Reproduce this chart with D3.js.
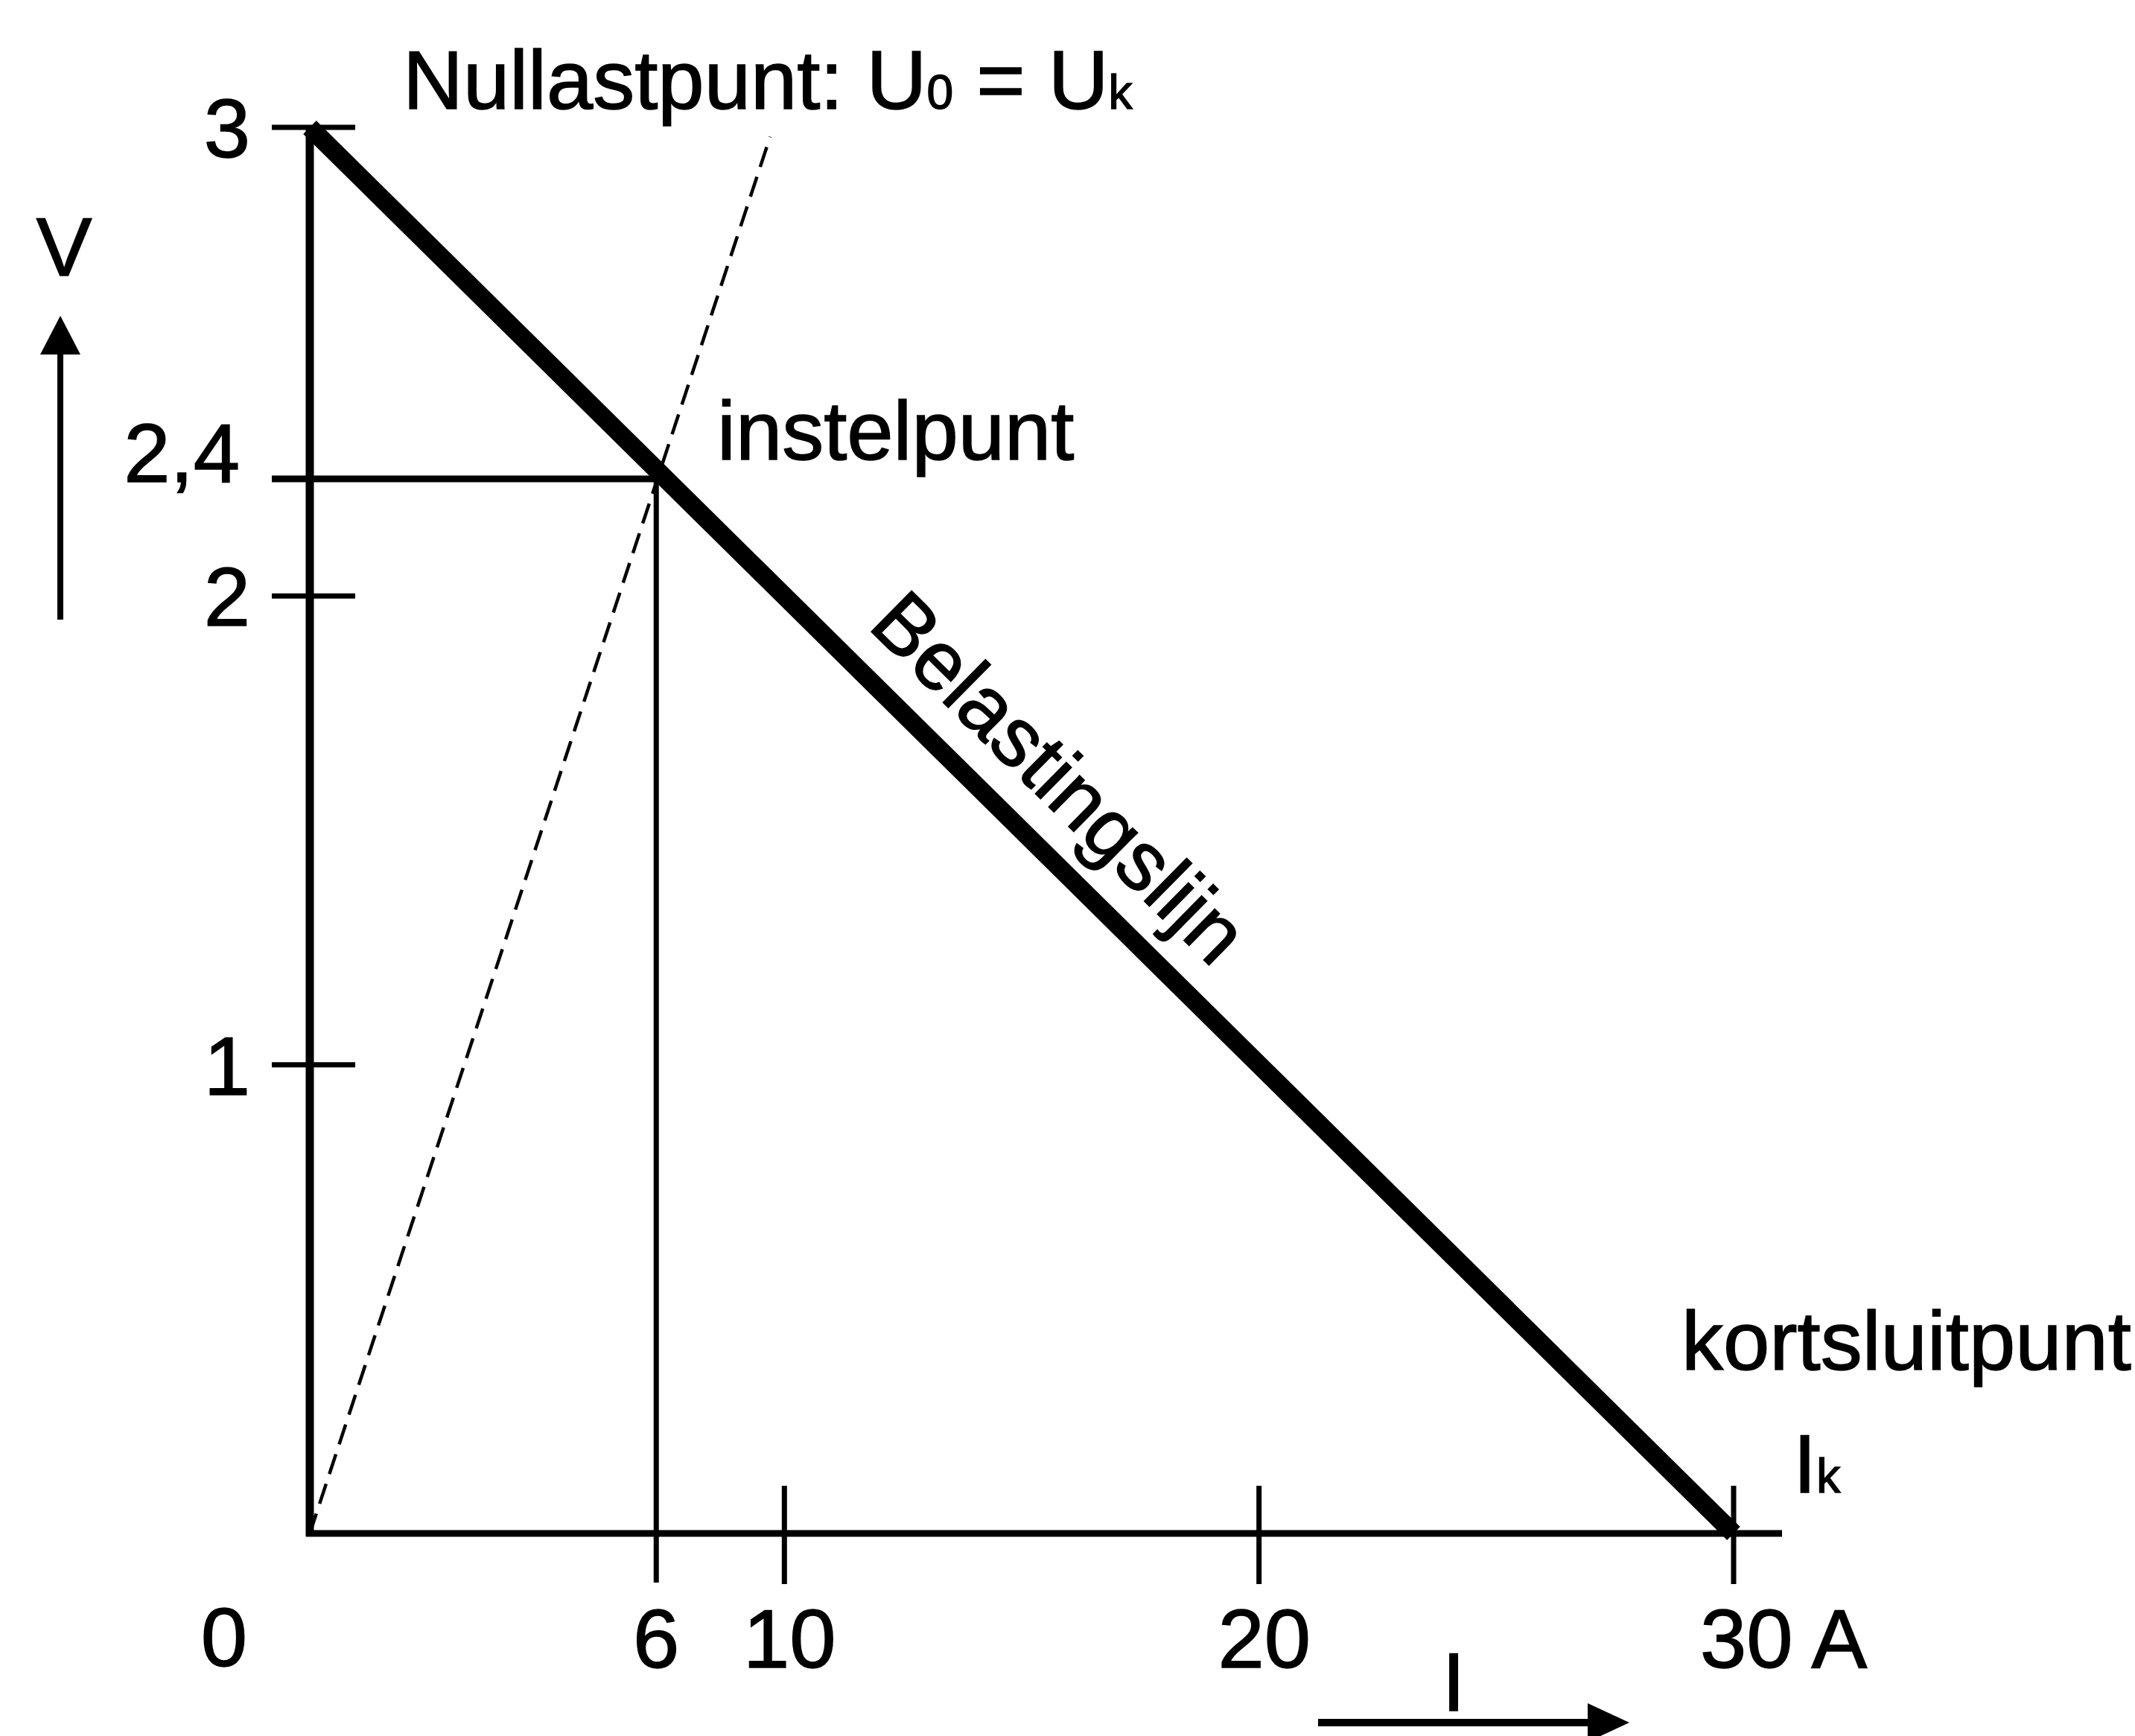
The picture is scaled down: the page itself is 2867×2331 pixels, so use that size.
<!DOCTYPE html>
<html>
<head>
<meta charset="utf-8">
<script src="https://cdn.jsdelivr.net/npm/d3@7"></script>
<style>
  html, body { margin: 0; padding: 0; background: #fff; }
  svg { display: block; }
  text { font-family: "Liberation Sans", Arial, Helvetica, sans-serif; fill: #000; stroke: #000; stroke-width: 1.5px; }
</style>
</head>
<body>
<script>
// ---- data ----
const xTicks = [10, 20, 30];
const xTickLabels = ["10", "20", "30"];
const xUnit = "A";
const xOriginLabel = "0";
const yTicks = [1, 2, 3];
const yTickLabels = ["1", "2", "3"];
const loadLine = [{I: 0, V: 3}, {I: 30, V: 0}];          // Belastingslijn
const nullLine = [{I: 0, V: 0}, {I: 9.7, V: 2.98}];       // towards Nullastpunt
const instel = {I: 7.3, V: 2.25, labelI: "6", labelV: "2,4"};
const belastLabelAt = 11.2;                               // position along load line (I)
const texts = {
  yAxis: "V",
  xAxis: "I",
  instel: "instelpunt",
  belast: "Belastingslijn",
  kort: "kortsluitpunt",
  nullMain: "Nullastpunt: U",
  nullSub0: "0",
  nullEq: " = U",
  nullSubK: "k",
  ik: "I",
  ikSub: "k"
};

// ---- setup ----
const W = 2867, H = 2331;
const FS = 112, FS_SUB = 64;
const svg = d3.select("body").append("svg").attr("width", W).attr("height", H);
svg.append("rect").attr("width", W).attr("height", H).attr("fill", "#fff");

const x = d3.scaleLinear().domain([0, 30]).range([416, 2328]);
const y = d3.scaleLinear().domain([0, 3]).range([2059, 171]);

const g = svg.append("g");

// ---- axes ----
g.append("line").attr("x1", x(0) - 5).attr("x2", x(30) + 65)
  .attr("y1", y(0)).attr("y2", y(0)).attr("stroke", "#000").attr("stroke-width", 9);
g.append("line").attr("x1", x(0)).attr("x2", x(0))
  .attr("y1", y(0) + 4).attr("y2", y(3)).attr("stroke", "#000").attr("stroke-width", 11);

// x ticks
g.selectAll(".xt").data(xTicks).enter().append("line")
  .attr("x1", d => x(d)).attr("x2", d => x(d))
  .attr("y1", y(0) - 64).attr("y2", y(0) + 68)
  .attr("stroke", "#000").attr("stroke-width", 7);
// y ticks
g.selectAll(".yt").data(yTicks).enter().append("line")
  .attr("x1", x(0) - 51).attr("x2", x(0) + 61)
  .attr("y1", d => y(d)).attr("y2", d => y(d))
  .attr("stroke", "#000").attr("stroke-width", 7);

// x tick labels
g.selectAll(".xl").data(xTicks).enter().append("text")
  .attr("x", (d, i) => x(d) + (i === 2 ? -45 : 7))
  .attr("y", y(0) + 180)
  .attr("text-anchor", (d, i) => i === 2 ? "start" : "middle")
  .attr("font-size", FS)
  .text((d, i) => i === 2 ? xTickLabels[i] + " " + xUnit : xTickLabels[i]);
g.append("text").attr("x", x(0) - 115).attr("y", y(0) + 178)
  .attr("text-anchor", "middle").attr("font-size", FS).text(xOriginLabel);

// y tick labels
g.selectAll(".yl").data(yTicks).enter().append("text")
  .attr("x", x(0) - 80).attr("y", d => y(d) + 40)
  .attr("text-anchor", "end").attr("font-size", FS)
  .text((d, i) => yTickLabels[i]);

// ---- instelpunt guide lines ----
g.append("line").attr("x1", x(0) - 51).attr("x2", x(instel.I))
  .attr("y1", y(instel.V)).attr("y2", y(instel.V))
  .attr("stroke", "#000").attr("stroke-width", 9);
g.append("line").attr("x1", x(instel.I)).attr("x2", x(instel.I))
  .attr("y1", y(instel.V)).attr("y2", y(0) + 66)
  .attr("stroke", "#000").attr("stroke-width", 7);
g.append("text").attr("x", x(instel.I)).attr("y", y(0) + 180)
  .attr("text-anchor", "middle").attr("font-size", FS).text(instel.labelI);
g.append("text").attr("x", x(0) - 94).attr("y", y(instel.V) + 4)
  .attr("text-anchor", "end").attr("font-size", FS).text(instel.labelV);

// ---- dashed Nullast line ----
const line = d3.line().x(d => x(d.I)).y(d => y(d.V));
g.append("path").datum(nullLine).attr("d", line)
  .attr("fill", "none").attr("stroke", "#000").attr("stroke-width", 4.5)
  .attr("stroke-dasharray", "28 14");

// ---- load line ----
g.append("path").datum(loadLine).attr("d", line)
  .attr("fill", "none").attr("stroke", "#000").attr("stroke-width", 25)
  .attr("stroke-linecap", "butt");

// ---- Belastingslijn label ----
const ang = Math.atan2(y(0) - y(3), x(30) - x(0)) * 180 / Math.PI;
const bI = belastLabelAt, bV = 3 - bI / 10;
g.append("text")
  .attr("transform", `translate(${x(bI)},${y(bV)}) rotate(${ang})`)
  .attr("x", 0).attr("y", -48)
  .attr("font-size", FS).text(texts.belast);

// ---- annotations ----
g.append("text").attr("x", 963).attr("y", 617).attr("font-size", FS).text(texts.instel);
g.append("text").attr("x", 2258).attr("y", 1839).attr("font-size", FS).text(texts.kort);

const ik = g.append("text").attr("x", 2408).attr("y", 2004).attr("font-size", FS);
ik.append("tspan").text(texts.ik);
ik.append("tspan").attr("font-size", FS_SUB).text(texts.ikSub);

const nt = g.append("text").attr("x", 541).attr("y", 146).attr("font-size", FS);
nt.append("tspan").text(texts.nullMain);
nt.append("tspan").attr("font-size", FS_SUB).text(texts.nullSub0);
nt.append("tspan").text(texts.nullEq);
nt.append("tspan").attr("font-size", FS_SUB).text(texts.nullSubK);

// ---- axis direction arrows ----
// V arrow
g.append("line").attr("x1", 81).attr("x2", 81).attr("y1", 832).attr("y2", 470)
  .attr("stroke", "#000").attr("stroke-width", 8);
g.append("path").attr("d", d3.line()([[81, 424], [54, 476], [108, 476]]) + "Z").attr("fill", "#000");
g.append("text").attr("x", 86).attr("y", 370).attr("text-anchor", "middle")
  .attr("font-size", FS).text(texts.yAxis);
// I arrow
g.append("line").attr("x1", 1770).attr("x2", 2140).attr("y1", 2313).attr("y2", 2313)
  .attr("stroke", "#000").attr("stroke-width", 10);
g.append("path").attr("d", d3.line()([[2188, 2313], [2132, 2287], [2132, 2339]]) + "Z").attr("fill", "#000");
g.append("text").attr("x", 1952).attr("y", 2297).attr("text-anchor", "middle")
  .attr("font-size", FS).text(texts.xAxis);
</script>
</body>
</html>
